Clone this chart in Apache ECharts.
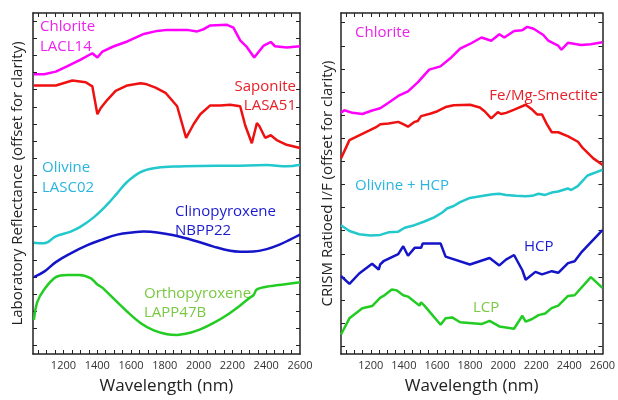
<!DOCTYPE html>
<html>
<head>
<meta charset="utf-8">
<script src="https://cdn.jsdelivr.net/npm/echarts@6/dist/echarts.min.js"></script>
<style>
  html, body { margin: 0; padding: 0; background: #fff; }
  #chart { width: 618px; height: 400px; }
</style>
</head>
<body>
<div id="chart"></div>
<script>
const chart = echarts.init(document.getElementById("chart"));

// wavelength (nm), offset reflectance / I/F in tick units
const labChlorite = [[1025,15.91],[1086,15.91],[1155,16.06],[1224,16.38],[1302,16.76],[1371,17.14],[1401,16.89],[1430,17.23],[1499,17.55],[1578,17.83],[1676,18.27],[1755,18.45],[1814,18.51],[1932,18.51],[1991,18.42],[2030,18.55],[2069,18.77],[2168,18.81],[2206,18.64],[2246,17.89],[2285,17.51],[2329,16.89],[2383,17.57],[2427,17.80],[2452,17.55],[2522,17.47],[2600,17.55]];
const labSaponite = [[1025,15.25],[1155,15.25],[1253,15.54],[1332,15.44],[1371,15.20],[1401,13.56],[1421,13.93],[1460,14.41],[1509,14.93],[1578,15.25],[1656,15.38],[1686,15.34],[1745,15.12],[1804,14.82],[1873,14.03],[1926,12.18],[1971,12.99],[2010,13.56],[2069,14.08],[2128,14.07],[2187,14.12],[2246,14.03],[2276,12.90],[2315,11.86],[2345,13.05],[2360,12.86],[2394,12.18],[2427,12.33],[2462,12.05],[2521,11.77],[2600,11.58]];
const labOlivine = [[1025,6.02],[1086,5.99],[1155,6.40],[1243,6.68],[1302,6.97],[1381,7.53],[1460,8.28],[1519,8.94],[1578,9.60],[1656,10.17],[1735,10.40],[1853,10.49],[2010,10.53],[2206,10.54],[2403,10.58],[2521,10.51],[2600,10.60]];
const labClinopyroxene = [[1025,4.01],[1086,4.33],[1155,4.89],[1243,5.40],[1342,5.88],[1420,6.18],[1519,6.50],[1617,6.64],[1676,6.68],[1755,6.63],[1853,6.46],[1971,6.16],[2089,5.80],[2187,5.55],[2246,5.50],[2325,5.51],[2403,5.65],[2482,5.93],[2541,6.21],[2600,6.50]];
const labOrthopyroxene = [[1025,1.50],[1045,2.54],[1086,3.29],[1155,4.01],[1224,4.14],[1292,4.14],[1361,3.95],[1401,3.58],[1430,3.39],[1499,2.73],[1578,1.98],[1656,1.32],[1735,0.88],[1814,0.66],[1873,0.62],[1951,0.75],[2010,0.94],[2089,1.32],[2168,1.79],[2246,2.35],[2305,2.82],[2325,2.95],[2345,3.29],[2423,3.48],[2502,3.58],[2600,3.71]];

const crismChlorite = [[1020,10.10],[1040,10.21],[1089,10.10],[1149,10.05],[1208,10.20],[1257,10.30],[1307,10.54],[1366,10.83],[1425,11.03],[1484,11.42],[1553,11.97],[1621,12.11],[1681,12.46],[1740,12.88],[1799,13.08],[1869,13.36],[1928,13.22],[1977,13.50],[2007,13.36],[2066,13.64],[2115,13.67],[2145,13.82],[2184,13.74],[2243,13.47],[2273,13.22],[2332,13.01],[2352,12.83],[2391,13.13],[2470,13.04],[2530,13.07],[2600,13.15]];
const crismSmectite = [[1020,8.13],[1071,8.92],[1130,9.13],[1189,9.33],[1229,9.47],[1258,9.61],[1307,9.64],[1366,9.71],[1396,9.61],[1425,9.50],[1465,9.71],[1484,9.75],[1504,9.96],[1563,10.07],[1603,10.17],[1652,10.35],[1701,10.43],[1800,10.45],[1859,10.33],[1888,10.17],[1928,9.86],[1968,10.13],[1988,10.05],[2018,10.10],[2067,10.24],[2136,10.45],[2175,10.24],[2205,10.03],[2235,10.03],[2264,9.61],[2294,9.26],[2333,9.26],[2393,9.08],[2452,8.85],[2482,8.57],[2545,8.13],[2600,7.85]];
const crismOlivineHcp = [[1020,5.24],[1071,4.99],[1130,4.85],[1198,4.79],[1257,4.82],[1307,4.93],[1366,4.96],[1405,5.13],[1464,5.24],[1524,5.40],[1583,5.58],[1632,5.79],[1661,5.96],[1701,6.07],[1740,6.24],[1799,6.42],[1879,6.51],[1938,6.58],[1977,6.60],[2017,6.55],[2077,6.51],[2136,6.49],[2175,6.51],[2214,6.60],[2254,6.55],[2293,6.65],[2332,6.70],[2391,6.83],[2411,6.76],[2451,6.93],[2510,7.39],[2600,7.63]];
const crismHcp = [[1020,3.04],[1071,2.70],[1130,3.15],[1208,3.57],[1248,3.32],[1257,3.54],[1277,3.68],[1366,3.99],[1396,4.33],[1425,3.92],[1465,4.26],[1504,4.26],[1514,4.45],[1622,4.45],[1652,3.88],[1799,3.54],[1918,3.82],[1977,3.50],[2017,3.75],[2066,3.95],[2116,3.29],[2136,2.88],[2195,3.22],[2235,3.11],[2294,3.25],[2333,3.18],[2392,3.60],[2432,3.68],[2471,4.05],[2600,5.03]];
const crismLcp = [[1020,0.51],[1071,1.21],[1149,1.65],[1208,1.74],[1258,2.11],[1277,2.18],[1327,2.46],[1356,2.42],[1396,2.21],[1425,2.15],[1494,1.76],[1504,1.90],[1524,1.76],[1622,0.93],[1652,1.21],[1692,1.25],[1740,1.04],[1869,0.96],[1918,1.10],[1977,0.86],[2066,0.76],[2116,1.32],[2136,1.07],[2175,1.18],[2214,1.35],[2254,1.42],[2293,1.65],[2333,1.76],[2392,2.18],[2432,2.21],[2530,2.99],[2600,2.53]];

const xTicks = [];
for (let w = 1050; w <= 2550; w += 50) xTicks.push(w);
const xLabels = [1200, 1400, 1600, 1800, 2000, 2200, 2400, 2600];
const leftYTicks = [];
for (let i = 0; i <= 19; i++) leftYTicks.push(i);
const rightYTicks = [];
for (let i = 0; i <= 14; i++) rightYTicks.push(i);

const FONT = "'Open Sans', 'Liberation Sans', sans-serif";
const MAGENTA = "#ff00ff", RED = "#ee1111", CYAN = "#22c8cc", BLUE = "#1414c8", GREEN = "#22cc22";

const axisLine = { onZero: false, lineStyle: { color: "#222", width: 1.5 } };
function xAxisDef(grid, pos) {
  return {
    type: "value", gridIndex: grid, position: pos, min: 1020, max: 2600,
    axisLine: axisLine, splitLine: { show: false },
    axisTick: { inside: true, length: 4, customValues: xTicks, lineStyle: { color: "#222", width: 1 } },
    axisLabel: pos === "bottom"
      ? { customValues: xLabels, formatter: v => String(v), color: "#333", fontSize: 11, fontFamily: FONT, margin: 6 }
      : { show: false },
    name: pos === "bottom" ? "Wavelength (nm)" : "",
    nameLocation: "middle", nameGap: 24,
    nameTextStyle: { fontSize: 17, color: "#222", fontFamily: FONT }
  };
}
function yAxisDef(grid, pos, max, ticks, name) {
  const min = grid === 0 ? -0.5 : -1 / 3;
  return {
    type: "value", gridIndex: grid, position: pos, min: min, max: max,
    axisLine: axisLine, splitLine: { show: false },
    axisTick: { inside: true, length: 4, customValues: ticks, lineStyle: { color: "#222", width: 1 } },
    axisLabel: { show: false },
    name: pos === "left" ? name : "",
    nameLocation: "middle", nameGap: grid === 0 ? 8 : 6,
    nameTextStyle: { fontSize: 15, color: "#222", fontFamily: FONT }
  };
}
function line(data, color, xi, yi, smooth) {
  return {
    type: "line", data: data, xAxisIndex: xi, yAxisIndex: yi,
    showSymbol: false, smooth: smooth || false,
    lineStyle: { color: color, width: 2.5 }, silent: true
  };
}
function txt(text, x, y, color, align) {
  return {
    type: "text", x: x, y: y, silent: true,
    style: { text: text, fill: color, font: "15px " + FONT, textAlign: align || "left", textVerticalAlign: "middle" }
  };
}

chart.setOption({
  animation: false,
  grid: [
    { left: 33, right: 318, top: 13, bottom: 33 },
    { left: 341, right: 10, top: 13, bottom: 33 }
  ],
  xAxis: [xAxisDef(0, "bottom"), xAxisDef(0, "top"), xAxisDef(1, "bottom"), xAxisDef(1, "top")],
  yAxis: [
    yAxisDef(0, "left", 19.5, leftYTicks, "Laboratory Reflectance (offset for clarity)"),
    yAxisDef(0, "right", 19.5, leftYTicks, ""),
    yAxisDef(1, "left", 14.42, rightYTicks, "CRISM Ratioed I/F (offset for clarity)"),
    yAxisDef(1, "right", 14.42, rightYTicks, "")
  ],
  series: [
    line(labChlorite, MAGENTA, 0, 0),
    line(labSaponite, RED, 0, 0),
    line(labOlivine, CYAN, 0, 0, 0.4),
    line(labClinopyroxene, BLUE, 0, 0, 0.4),
    line(labOrthopyroxene, GREEN, 0, 0, 0.3),
    line(crismChlorite, MAGENTA, 2, 2),
    line(crismSmectite, RED, 2, 2),
    line(crismOlivineHcp, CYAN, 2, 2),
    line(crismHcp, BLUE, 2, 2),
    line(crismLcp, GREEN, 2, 2)
  ],
  graphic: [
    txt("Chlorite", 40, 27, "#ee22ee"),
    txt("LACL14", 40, 47, "#ee22ee"),
    txt("Saponite", 296, 87, "#e8202a", "right"),
    txt("LASA51", 296, 106, "#e8202a", "right"),
    txt("Olivine", 42, 168, "#2ab4e0"),
    txt("LASC02", 42, 188, "#2ab4e0"),
    txt("Clinopyroxene", 175, 212, "#1a1ad0"),
    txt("NBPP22", 175, 231, "#1a1ad0"),
    txt("Orthopyroxene", 144, 294, "#7ac943"),
    txt("LAPP47B", 144, 313, "#7ac943"),
    txt("Chlorite", 355, 33, "#ee22ee"),
    txt("Fe/Mg-Smectite", 598, 96, "#e8202a", "right"),
    txt("Olivine + HCP", 355, 186, "#2ab4e0"),
    txt("HCP", 524, 247, "#1a1ad0"),
    txt("LCP", 473, 308, "#7ac943")
  ]
});
</script>
</body>
</html>
